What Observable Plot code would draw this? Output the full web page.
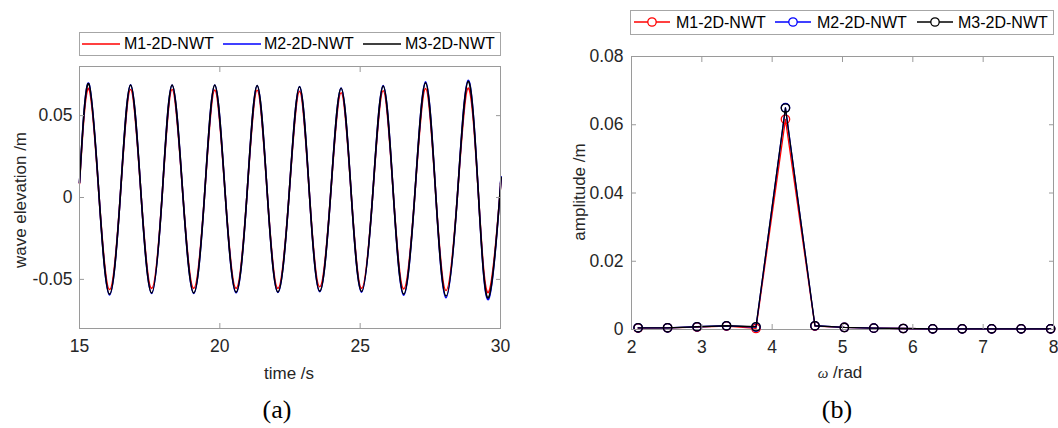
<!DOCTYPE html>
<html><head><meta charset="utf-8">
<script src="https://cdn.jsdelivr.net/npm/d3@7"></script>
<script src="https://cdn.jsdelivr.net/npm/@observablehq/plot@0.6"></script>
<style>
body{margin:0;background:#fff;}
#wrap{position:relative;width:1058px;height:428px;overflow:hidden;font-family:"Liberation Sans",Arial,sans-serif;color:#262626;background:#fff;}
.lg{position:absolute;border:1px solid #a6a6a6;background:#fff;box-sizing:border-box;}
.lt{position:absolute;font-size:16px;line-height:16px;white-space:nowrap;color:#000;transform:translateY(-50%);}
.sw{position:absolute;overflow:visible;}
.ax{position:absolute;font-size:17px;line-height:17px;white-space:nowrap;color:#262626;}
.cap{position:absolute;font-family:"Liberation Serif","DejaVu Serif",serif;font-size:26px;line-height:26px;color:#000;transform:translate(-50%,-50%);}
</style></head><body><div id="wrap"></div>
<script>
// ---------- (a) wave elevation time series ----------
const timeA = [15.0,
  15.33, 15.70, 16.07, 16.45,
  16.82, 17.20, 17.57, 17.94,
  18.30, 18.69, 19.07, 19.45,
  19.82, 20.20, 20.58, 20.96,
  21.33, 21.70, 22.07, 22.46,
  22.84, 23.20, 23.56, 23.94,
  24.32, 24.69, 25.05, 25.44,
  25.82, 26.19, 26.55, 26.94,
  27.33, 27.70, 28.06, 28.46,
  28.85, 29.22, 29.58, 29.97,
  30.0];
const m1Elev = [0.0085,
  0.0665,0,-0.0562,0, 0.0660,0,-0.0555,0, 0.0660,0,-0.0555,0, 0.0656,0,-0.0555,0,
  0.0655,0,-0.0555,0, 0.0648,0,-0.0545,0, 0.0640,0,-0.0555,0, 0.0652,0,-0.0558,0,
  0.0665,0,-0.0568,0, 0.0668,0,-0.0578,0,
  0.0075];
const m2Elev = [0.009,
  0.0698,0,-0.0595,0, 0.0688,0,-0.0586,0, 0.0687,0,-0.0586,0, 0.0687,0,-0.0582,0,
  0.0684,0,-0.0580,0, 0.0677,0,-0.0575,0, 0.0668,0,-0.0578,0, 0.0683,0,-0.0597,0,
  0.0706,0,-0.0612,0, 0.0716,0,-0.0620,0,
  0.0085];
const m3Elev = [0.009,
  0.0695,0,-0.0590,0, 0.0686,0,-0.0583,0, 0.0686,0,-0.0583,0, 0.0686,0,-0.0578,0,
  0.0683,0,-0.0577,0, 0.0676,0,-0.0572,0, 0.0667,0,-0.0574,0, 0.0680,0,-0.0590,0,
  0.0700,0,-0.0602,0, 0.0710,0,-0.0610,0,
  0.008];
const xTicksA = [15, 20, 25, 30];
const yTicksA = [-0.05, 0, 0.05];

// ---------- (b) amplitude spectrum ----------
const omegaB = [2.094, 2.513, 2.932, 3.351, 3.770, 4.189, 4.608, 5.027, 5.445, 5.864, 6.283, 6.702, 7.121, 7.540, 7.959];
const m1Amp = [0.0004, 0.0005, 0.0007, 0.0010, 0.0003, 0.0616, 0.0010, 0.0006, 0.0004, 0.0003, 0.0002, 0.0002, 0.0002, 0.0002, 0.0002];
const m2Amp = [0.0005, 0.0005, 0.0008, 0.0011, 0.0007, 0.0650, 0.0011, 0.0006, 0.0004, 0.0003, 0.0002, 0.0002, 0.0002, 0.0002, 0.0002];
const m3Amp = [0.0005, 0.0005, 0.0008, 0.0011, 0.0008, 0.0649, 0.0011, 0.0006, 0.0004, 0.0003, 0.0002, 0.0002, 0.0002, 0.0002, 0.0002];
const xTicksB = [2, 3, 4, 5, 6, 7, 8];
const yTicksB = [0, 0.02, 0.04, 0.06, 0.08];

const seriesNames = ["M1-2D-NWT", "M2-2D-NWT", "M3-2D-NWT"];
const seriesColors = ["#ff0000", "#0000ff", "#000000"];

// ---------- helpers ----------
const GRAY = "#9a9a9a";
const fmt = d => String(d);
function boxAxes(xt, yt, padX, padY) {
  return [
    Plot.axisX(xt, {anchor: "bottom", tickSize: 0, tickPadding: padX, tickFormat: fmt, label: null, fill: "#262626"}),
    Plot.axisY(yt, {anchor: "left", tickSize: 0, tickPadding: padY, tickFormat: fmt, label: null, fill: "#262626"}),
    Plot.axisX(xt, {anchor: "bottom", tickSize: 5, dy: -5, fill: "none", label: null, stroke: GRAY}),
    Plot.axisX(xt, {anchor: "top", tickSize: 5, dy: 5, fill: "none", label: null, stroke: GRAY}),
    Plot.axisY(yt, {anchor: "left", tickSize: 5, dx: 5, fill: "none", label: null, stroke: GRAY}),
    Plot.axisY(yt, {anchor: "right", tickSize: 5, dx: -5, fill: "none", label: null, stroke: GRAY})
  ];
}
const plotStyle = {fontFamily: '"Liberation Sans", Arial, sans-serif', fontSize: "17.5px", color: "#262626", background: "transparent", overflow: "visible"};

const elevSeries = [m1Elev, m2Elev, m3Elev].map(vals => timeA.map((t, i) => ({t, v: vals[i]})));
const ampSeries = [m1Amp, m2Amp, m3Amp].map(vals => omegaB.map((w, i) => ({w, a: vals[i]})));

const plotA = Plot.plot({
  width: 530, height: 428,
  marginLeft: 79, marginRight: 30, marginTop: 66, marginBottom: 100,
  x: {domain: [15, 30]},
  y: {domain: [-0.08, 0.08]},
  style: plotStyle,
  marks: [
    ...elevSeries.map((rows, k) => Plot.line(rows, {x: "t", y: "v", stroke: seriesColors[k], strokeWidth: 1.6, curve: "natural"})),
    Plot.frame({stroke: GRAY}),
    ...boxAxes(xTicksA, yTicksA, 11, 7)
  ]
});

const plotB = Plot.plot({
  width: 528, height: 428,
  marginLeft: 101, marginRight: 5, marginTop: 56, marginBottom: 99,
  x: {domain: [2, 8]},
  y: {domain: [0, 0.08]},
  style: plotStyle,
  marks: [
    Plot.frame({stroke: GRAY}),
    ...ampSeries.flatMap((rows, k) => [
      Plot.line(rows, {x: "w", y: "a", stroke: seriesColors[k], strokeWidth: 1.3}),
      Plot.dot(rows, {x: "w", y: "a", stroke: seriesColors[k], fill: "none", r: 4.2, strokeWidth: 1.3})
    ]),
    ...boxAxes(xTicksB, yTicksB, 11, 8)
  ]
});

const wrap = document.getElementById("wrap");
for (const [svg, left] of [[plotA, 0], [plotB, 530]]) {
  svg.style.position = "absolute";
  svg.style.left = left + "px";
  svg.style.top = "0px";
  wrap.appendChild(svg);
}

// ---------- legends ----------
function addEl(html) { wrap.insertAdjacentHTML("beforeend", html); }
addEl(`<div class="lg" style="left:79px;top:32px;width:422px;height:24px"></div>`);
const legA = [[82, 124], [223, 264], [363, 405]];
legA.forEach(([sx, tx], k) => {
  addEl(`<svg class="sw" style="left:${sx}px;top:38px" width="38" height="12"><line x1="0" x2="38" y1="6" y2="6" stroke="${seriesColors[k]}" stroke-width="1.5"/></svg>`);
  addEl(`<div class="lt" style="left:${tx}px;top:44px">${seriesNames[k]}</div>`);
});
addEl(`<div class="lg" style="left:630px;top:10px;width:424px;height:25px"></div>`);
const legB = [[634, 676], [775, 817], [917, 958]];
legB.forEach(([sx, tx], k) => {
  addEl(`<svg class="sw" style="left:${sx}px;top:16px" width="36" height="12"><line x1="0" x2="36" y1="6" y2="6" stroke="${seriesColors[k]}" stroke-width="1.3"/><circle cx="18" cy="6" r="4.2" fill="white" stroke="${seriesColors[k]}" stroke-width="1.3"/></svg>`);
  addEl(`<div class="lt" style="left:${tx}px;top:22.5px">${seriesNames[k]}</div>`);
});

// ---------- axis titles & captions ----------
addEl(`<div class="ax" style="left:289px;top:373px;transform:translate(-50%,-50%)">time /s</div>`);
addEl(`<div class="ax" style="left:20px;top:200px;transform:translate(-50%,-50%) rotate(-90deg)">wave elevation /m</div>`);
addEl(`<div class="ax" style="left:579px;top:192px;transform:translate(-50%,-50%) rotate(-90deg)">amplitude /m</div>`);
addEl(`<div class="ax" style="left:840px;top:373px;transform:translate(-50%,-50%)"><span style="font-family:'Liberation Serif',serif;font-style:italic;font-size:15px">ω</span> /rad</div>`);
addEl(`<div class="cap" style="left:277px;top:410px">(a)</div>`);
addEl(`<div class="cap" style="left:837px;top:410px">(b)</div>`);
</script>
</body></html>
